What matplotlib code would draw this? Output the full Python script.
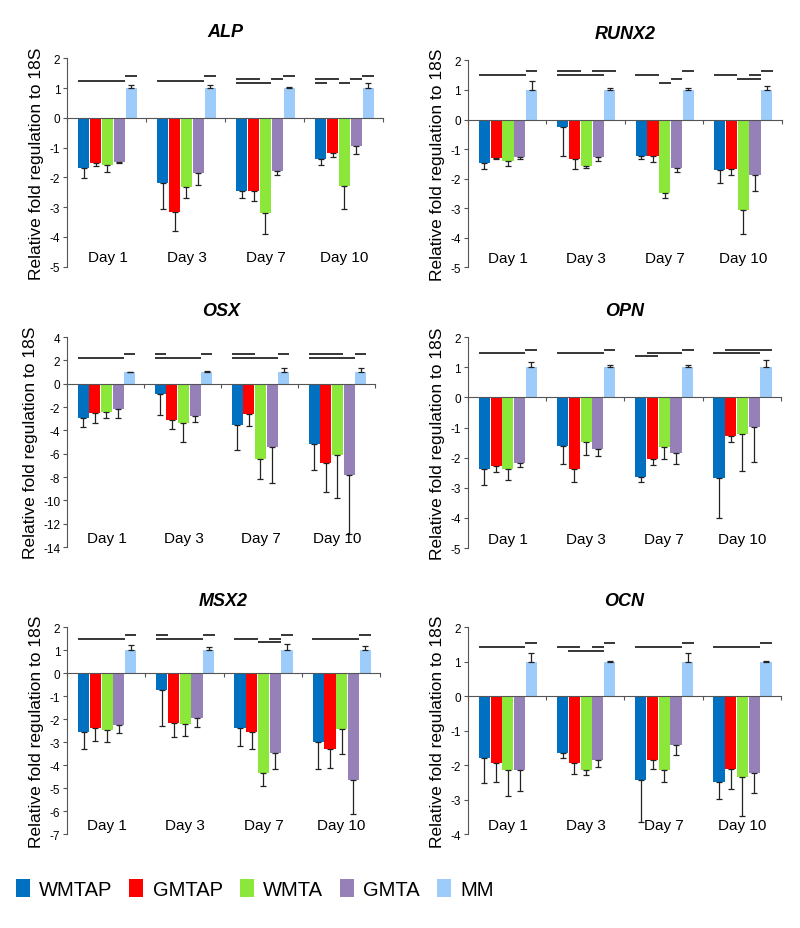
import numpy as np
import matplotlib
matplotlib.use('Agg')
import matplotlib.pyplot as plt
from matplotlib.patches import Patch

plt.rcParams['font.family'] = ['Liberation Sans', 'DejaVu Sans']

groups = ['WMTAP', 'GMTAP', 'WMTA', 'GMTA', 'MM']
colours = ['#0070C0', '#FF0000', '#8BE83A', '#9580B8', '#9DCBFA']
days = ['Day 1', 'Day 3', 'Day 7', 'Day 10']

# mean values: one row per day, one column per group
alp_mean = [[-1.70, -1.52, -1.58, -1.48, 1.0],
            [-2.18, -3.18, -2.32, -1.86, 1.0],
            [-2.47, -2.45, -3.20, -1.78, 1.0],
            [-1.39, -1.18, -2.28, -0.95, 1.0]]
alp_err = [[0.32, 0.11, 0.25, 0.05, 0.11],
           [0.87, 0.61, 0.39, 0.41, 0.10],
           [0.23, 0.35, 0.71, 0.14, 0.03],
           [0.18, 0.15, 0.79, 0.25, 0.17]]
# significance lines: (day, from bar edge, to bar edge, height)
alp_sig = [(0, 0, 4, 1.23), (0, 4, 5, 1.41), (1, 0, 4, 1.23), (1, 4, 5, 1.41),
           (2, 0, 2, 1.30), (2, 0, 3, 1.17), (2, 3, 4, 1.30), (2, 4, 5, 1.41),
           (3, 0, 1, 1.17), (3, 0, 2, 1.30), (3, 2, 3, 1.17), (3, 3, 4, 1.30),
           (3, 4, 5, 1.41)]

runx2_mean = [[-1.47, -1.30, -1.40, -1.26, 1.0],
              [-0.26, -1.33, -1.57, -1.26, 1.0],
              [-1.23, -1.23, -2.50, -1.63, 1.0],
              [-1.71, -1.68, -3.07, -1.88, 1.0]]
runx2_err = [[0.20, 0.03, 0.16, 0.07, 0.30],
             [0.96, 0.34, 0.07, 0.13, 0.07],
             [0.10, 0.19, 0.14, 0.15, 0.07],
             [0.43, 0.21, 0.79, 0.54, 0.12]]
runx2_sig = [(0, 0, 4, 1.49), (0, 4, 5, 1.63), (1, 0, 2, 1.63), (1, 0, 4, 1.49),
             (1, 3, 5, 1.63), (2, 0, 2, 1.49), (2, 2, 3, 1.24), (2, 3, 4, 1.36),
             (2, 4, 5, 1.63), (3, 0, 2, 1.49), (3, 2, 4, 1.36), (3, 3, 4, 1.49),
             (3, 4, 5, 1.63)]

osx_mean = [[-2.90, -2.53, -2.39, -2.13, 1.0],
            [-0.90, -3.08, -3.34, -2.79, 1.0],
            [-3.56, -2.59, -6.46, -5.40, 1.0],
            [-5.17, -6.80, -6.12, -7.81, 1.0]]
osx_err = [[0.78, 0.86, 0.57, 0.83, 0.05],
           [1.75, 0.80, 1.63, 0.52, 0.08],
           [2.12, 1.01, 1.74, 3.10, 0.39],
           [2.21, 2.50, 3.64, 5.09, 0.33]]
osx_sig = [(0, 0, 4, 2.19), (0, 4, 5, 2.57), (1, 0, 1, 2.57), (1, 0, 4, 2.19),
           (1, 4, 5, 2.57), (2, 0, 2, 2.57), (2, 0, 4, 2.19), (2, 4, 5, 2.57),
           (3, 0, 3, 2.57), (3, 0, 4, 2.19), (3, 4, 5, 2.57)]

opn_mean = [[-2.37, -2.27, -2.39, -2.17, 1.0],
            [-1.62, -2.39, -1.49, -1.71, 1.0],
            [-2.65, -2.06, -1.64, -1.86, 1.0],
            [-2.68, -1.29, -1.22, -0.97, 1.0]]
opn_err = [[0.53, 0.20, 0.35, 0.14, 0.17],
           [0.60, 0.42, 0.42, 0.24, 0.08],
           [0.16, 0.20, 0.41, 0.35, 0.06],
           [1.32, 0.19, 1.22, 1.19, 0.24]]
opn_sig = [(0, 0, 4, 1.48), (0, 4, 5, 1.58), (1, 0, 4, 1.48), (1, 4, 5, 1.58),
           (2, 0, 2, 1.39), (2, 1, 4, 1.48), (2, 4, 5, 1.58), (3, 0, 4, 1.48),
           (3, 1, 5, 1.58)]

msx2_mean = [[-2.55, -2.38, -2.49, -2.26, 1.0],
             [-0.72, -2.19, -2.20, -1.94, 1.0],
             [-2.39, -2.54, -4.35, -3.46, 1.0],
             [-3.01, -3.29, -2.43, -4.65, 1.0]]
msx2_err = [[0.77, 0.58, 0.52, 0.36, 0.20],
            [1.57, 0.61, 0.54, 0.41, 0.14],
            [0.78, 0.74, 0.55, 0.70, 0.25],
            [1.15, 0.83, 1.09, 1.49, 0.19]]
msx2_sig = [(0, 0, 4, 1.49), (0, 4, 5, 1.64), (1, 0, 1, 1.64), (1, 0, 4, 1.49),
            (1, 4, 5, 1.64), (2, 0, 2, 1.49), (2, 2, 4, 1.36), (2, 3, 4, 1.49),
            (2, 4, 5, 1.64), (3, 0, 4, 1.49), (3, 4, 5, 1.64)]

ocn_mean = [[-1.80, -1.93, -2.15, -2.13, 1.0],
            [-1.64, -1.93, -2.15, -1.86, 1.0],
            [-2.43, -1.84, -2.13, -1.43, 1.0],
            [-2.49, -2.10, -2.35, -2.24, 1.0]]
ocn_err = [[0.72, 0.57, 0.75, 0.61, 0.24],
           [0.15, 0.32, 0.14, 0.19, 0.02],
           [1.23, 0.26, 0.37, 0.29, 0.24],
           [0.50, 0.60, 1.11, 0.56, 0.01]]
ocn_sig = [(0, 0, 4, 1.42), (0, 4, 5, 1.53), (1, 0, 2, 1.42), (1, 1, 4, 1.30),
           (1, 3, 4, 1.42), (1, 4, 5, 1.53), (2, 0, 4, 1.42), (2, 4, 5, 1.53),
           (3, 0, 4, 1.42), (3, 4, 5, 1.53)]

titles = ['ALP', 'RUNX2', 'OSX', 'OPN', 'MSX2', 'OCN']
means = [alp_mean, runx2_mean, osx_mean, opn_mean, msx2_mean, ocn_mean]
errs = [alp_err, runx2_err, osx_err, opn_err, msx2_err, ocn_err]
sigs = [alp_sig, runx2_sig, osx_sig, opn_sig, msx2_sig, ocn_sig]
ylims = [(-5, 2), (-5, 2), (-14, 4), (-5, 2), (-7, 2), (-4, 2)]
ysteps = [1, 1, 2, 1, 1, 1]

# axes boxes [left, bottom, width, height] in figure fraction
boxes = [[0.084, 0.712, 0.395, 0.224], [0.585, 0.711, 0.392, 0.223],
         [0.084, 0.410, 0.385, 0.226], [0.585, 0.409, 0.391, 0.227],
         [0.084, 0.101, 0.391, 0.223], [0.585, 0.101, 0.391, 0.223]]

fig = plt.figure(figsize=(8, 9.29), dpi=100)

bw = 0.15
x = np.arange(len(days))
axcol = '#555555'

for t, m, e, s, yl, ys, box in zip(titles, means, errs, sigs, ylims, ysteps, boxes):
    ax = fig.add_axes(box)
    m = np.array(m)
    e = np.array(e)
    for j, (g, c) in enumerate(zip(groups, colours)):
        xp = x + (j - 2) * bw + 0.01
        ax.bar(xp, m[:, j], bw * 0.95, color=c, zorder=2)
        lo = np.where(m[:, j] < 0, e[:, j], 0)
        hi = np.where(m[:, j] > 0, e[:, j], 0)
        ax.errorbar(xp, m[:, j], yerr=[lo, hi], fmt='none', ecolor='#222222',
                    elinewidth=0.9, capsize=2.5, capthick=0.9, zorder=3)
    for d, a, b, h in s:
        x0 = x[d] - 2.5 * bw + 0.01 + a * bw
        x1 = x[d] - 2.5 * bw + 0.01 + b * bw
        ax.hlines(h, x0, x1, color='black', lw=1.1)
    ax.set_xlim(-0.5, 3.5)
    ax.set_ylim(*yl)
    ax.set_yticks(np.arange(yl[0], yl[1] + 0.1, ys))
    ax.set_yticklabels([str(int(v)) for v in np.arange(yl[0], yl[1] + 0.1, ys)])
    ax.spines['top'].set_visible(False)
    ax.spines['right'].set_visible(False)
    ax.spines['bottom'].set_position(('data', 0))
    ax.spines['bottom'].set_color(axcol)
    ax.spines['left'].set_color(axcol)
    ax.set_xticks([-0.5, 0.5, 1.5, 2.5, 3.5])
    ax.set_xticklabels([])
    ax.tick_params(axis='x', direction='out', length=3, color=axcol)
    ax.tick_params(axis='y', direction='out', length=3, color=axcol,
                   labelsize=8.5, pad=2)
    for xi, dl in zip(x, days):
        ax.text(xi + 0.01, yl[0] + (yl[1] - yl[0]) * 0.01, dl, ha='center',
                va='bottom', fontsize=11)
    ax.set_ylabel('Relative fold regulation to 18S', fontsize=12.5, labelpad=4)
    ax.set_title(t, fontsize=13, fontweight='bold', fontstyle='italic', pad=16)

handles = [Patch(facecolor=c, label=g) for g, c in zip(groups, colours)]
fig.legend(handles=handles, loc='center left', bbox_to_anchor=(-0.003, 0.042),
           ncol=5, frameon=False, fontsize=14.5,
           handlelength=0.7, handleheight=0.95, handletextpad=0.45,
           columnspacing=0.85)

plt.savefig('out.png', dpi=100)
